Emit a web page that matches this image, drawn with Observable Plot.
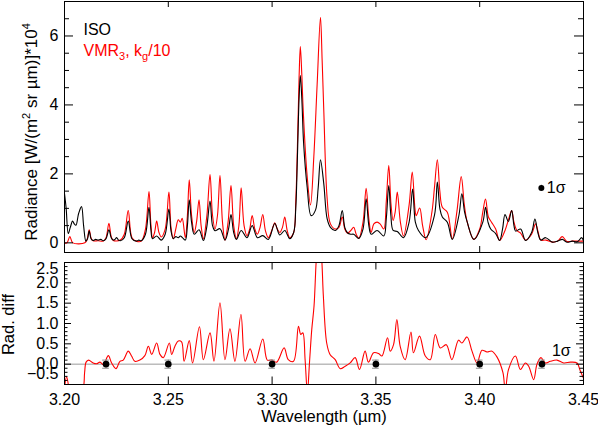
<!DOCTYPE html>
<html><head><meta charset="utf-8">
<script src="https://cdn.jsdelivr.net/npm/d3@7"></script>
<script src="https://cdn.jsdelivr.net/npm/@observablehq/plot@0.6"></script>
<style>
body{margin:0;background:#fff;}
#chart{position:relative;width:598px;height:427px;}
#chart svg{display:block;}
</style></head><body><div id="chart"></div>
<script>
// ---------- data (wavelength µm, value) ----------
const isoSpectrum = [
[3.2000,1.43],[3.2008,1.0],[3.2018,0.27],[3.2028,0.45],[3.2039,0.63],[3.2047,0.55],[3.2055,0.51],[3.2068,0.85],[3.2082,1.05],[3.2092,0.5],
[3.2103,0.05],[3.2111,0.12],[3.2119,0.35],[3.2128,0.12],[3.2138,0.07],[3.2150,0.1],[3.2162,0.08],[3.2175,0.1],[3.2187,0.06],[3.2200,0.12],
[3.2214,0.38],[3.2225,0.15],[3.2235,0.08],[3.2243,0.1],[3.2251,0.15],[3.2260,0.08],[3.2269,0.06],[3.2288,0.15],[3.2307,0.63],[3.2325,0.12],
[3.2346,0.05],[3.2358,0.08],[3.2370,0.06],[3.2390,0.25],[3.2407,1.03],[3.2416,0.4],[3.2424,0.12],[3.2444,0.2],[3.2466,0.08],[3.2485,0.25],
[3.2503,0.98],[3.2513,0.35],[3.2524,0.12],[3.2536,0.18],[3.2548,0.15],[3.2558,0.2],[3.2568,0.15],[3.2582,0.08],[3.2592,0.5],[3.2601,1.25],
[3.2612,0.6],[3.2625,0.25],[3.2648,0.38],[3.2669,0.07],[3.2685,0.45],[3.2701,1.21],[3.2713,0.5],[3.2725,0.35],[3.2749,0.41],[3.2773,0.08],
[3.2790,0.4],[3.2802,0.82],[3.2815,0.3],[3.2828,0.1],[3.2851,0.36],[3.2879,0.15],[3.2904,0.5],[3.2929,0.15],[3.2955,0.21],[3.2982,0.1],
[3.3013,0.56],[3.3037,0.23],[3.3061,0.36],[3.3085,0.12],[3.3104,0.3],[3.3114,1.0],[3.3122,2.5],[3.3130,4.2],[3.3136,4.85],[3.3143,4.2],
[3.3152,2.87],[3.3169,1.61],[3.3188,0.79],[3.3209,0.95],[3.3222,1.6],[3.3233,2.41],[3.3249,1.71],[3.3265,0.7],[3.3281,0.45],[3.3305,0.36],
[3.3322,0.5],[3.3338,0.94],[3.3350,0.45],[3.3362,0.3],[3.3378,0.25],[3.3393,0.25],[3.3418,0.13],[3.3438,0.4],[3.3453,1.28],[3.3466,0.5],
[3.3477,0.25],[3.3506,0.36],[3.3538,0.2],[3.3550,0.7],[3.3562,1.66],[3.3572,0.8],[3.3583,0.36],[3.3603,0.33],[3.3633,0.15],[3.3660,0.6],
[3.3677,1.56],[3.3690,0.6],[3.3705,0.36],[3.3739,0.15],[3.3782,0.8],[3.3796,1.76],[3.3808,1.0],[3.3820,0.75],[3.3844,0.6],[3.3868,0.1],
[3.3900,0.8],[3.3914,1.42],[3.3927,0.9],[3.3940,0.6],[3.3972,0.1],[3.4015,0.6],[3.4028,1.03],[3.4040,0.6],[3.4053,0.4],[3.4077,0.27],
[3.4096,0.07],[3.4110,0.4],[3.4122,0.82],[3.4138,0.62],[3.4154,0.94],[3.4165,0.5],[3.4173,0.34],[3.4197,0.4],[3.4221,0.07],[3.4250,0.3],
[3.4266,0.69],[3.4280,0.3],[3.4294,0.08],[3.4318,0.15],[3.4350,0.02],[3.4375,0.05],[3.4398,0.1],[3.4420,0.02],[3.4446,0.05],[3.4470,0.03],
[3.4491,0.15],[3.4500,0.05]
];
const vmrSpectrum = [
[3.2000,0],[3.2012,0],[3.2026,0.18],[3.2040,0],[3.2098,0],[3.2109,0.1],[3.2119,0.38],[3.2129,0.12],[3.2138,0.06],[3.2162,0.06],
[3.2187,0.05],[3.2200,0.15],[3.2214,0.57],[3.2225,0.18],[3.2235,0.07],[3.2269,0.08],[3.2288,0.25],[3.2307,0.94],[3.2325,0.15],[3.2346,0.05],
[3.2370,0.05],[3.2390,0.4],[3.2407,1.49],[3.2416,0.55],[3.2424,0.15],[3.2434,0.3],[3.2444,0.63],[3.2455,0.3],[3.2466,0.17],[3.2485,0.4],
[3.2503,1.47],[3.2513,0.45],[3.2524,0.12],[3.2536,0.4],[3.2548,0.67],[3.2558,0.6],[3.2567,0.71],[3.2582,0.15],[3.2592,0.8],[3.2601,1.83],
[3.2612,0.8],[3.2625,0.3],[3.2636,0.6],[3.2648,1.25],[3.2658,0.5],[3.2669,0.12],[3.2686,0.8],[3.2701,1.98],[3.2713,0.8],[3.2725,0.4],
[3.2737,0.8],[3.2749,1.95],[3.2761,0.6],[3.2773,0.08],[3.2788,0.6],[3.2802,1.66],[3.2815,0.5],[3.2828,0.12],[3.2840,0.5],[3.2851,1.6],
[3.2865,0.5],[3.2879,0.21],[3.2892,0.4],[3.2904,0.79],[3.2917,0.4],[3.2929,0.25],[3.2942,0.45],[3.2955,0.82],[3.2968,0.35],[3.2982,0.15],
[3.2998,0.35],[3.3013,0.58],[3.3025,0.4],[3.3037,0.3],[3.3050,0.45],[3.3061,0.75],[3.3073,0.35],[3.3085,0.15],[3.3104,0.3],[3.3114,1.2],
[3.3122,2.8],[3.3130,4.8],[3.3136,5.69],[3.3143,4.9],[3.3150,3.83],[3.3168,2.0],[3.3185,1.1],[3.3201,2.5],[3.3217,4.6],[3.3233,6.54],
[3.3241,5.3],[3.3249,3.83],[3.3265,1.3],[3.3281,0.55],[3.3305,0.4],[3.3322,0.45],[3.3338,0.75],[3.3350,0.4],[3.3362,0.28],[3.3378,0.35],
[3.3393,0.45],[3.3405,0.25],[3.3418,0.13],[3.3438,0.6],[3.3453,1.58],[3.3466,0.7],[3.3477,0.3],[3.3490,0.55],[3.3506,0.6],[3.3520,0.55],
[3.3538,0.4],[3.3550,1.2],[3.3562,2.24],[3.3573,1.1],[3.3583,0.65],[3.3593,0.9],[3.3603,1.47],[3.3618,0.6],[3.3633,0.2],[3.3660,1.1],
[3.3675,2.05],[3.3688,1.0],[3.3694,0.79],[3.3711,1.01],[3.3725,0.5],[3.3742,0.09],[3.3770,0.9],[3.3782,1.6],[3.3796,2.41],[3.3808,1.5],
[3.3820,1.03],[3.3844,0.89],[3.3868,0.12],[3.3890,0.9],[3.3911,1.92],[3.3926,1.1],[3.3940,0.6],[3.3972,0.1],[3.4000,0.4],[3.4015,0.9],
[3.4028,1.27],[3.4042,0.75],[3.4057,0.6],[3.4077,0.4],[3.4096,0.07],[3.4122,0.36],[3.4140,0.7],[3.4154,0.94],[3.4165,0.6],[3.4180,0.35],
[3.4197,0.28],[3.4221,0.08],[3.4250,0.25],[3.4269,0.55],[3.4282,0.3],[3.4294,0.08],[3.4318,0.08],[3.4350,0.02],[3.4375,0.05],[3.4398,0.18],
[3.4420,0.04],[3.4446,0.05],[3.4491,0.05],[3.4500,0.05]
];
const radDiff = [
[3.2000,-0.6],[3.2010,-0.31],[3.2020,-0.55],[3.2030,-0.9],[3.2060,-0.9],[3.2090,-0.6],[3.2097,-0.2],[3.2104,0.05],[3.2116,0.1],[3.2138,0.03],
[3.2154,0.01],[3.2171,0.05],[3.2187,-0.01],[3.2211,0.21],[3.2227,0.03],[3.2248,-0.11],[3.2267,0.07],[3.2283,0.1],[3.2307,0.32],[3.2323,0.2],
[3.2339,0.07],[3.2363,0.1],[3.2387,0.21],[3.2404,0.44],[3.2420,0.24],[3.2444,0.52],[3.2460,0.24],[3.2476,0.16],[3.2505,0.52],[3.2516,0.24],
[3.2532,0.44],[3.2548,0.57],[3.2564,0.55],[3.2576,0.07],[3.2601,0.58],[3.2617,0.03],[3.2650,0.92],[3.2669,0.11],[3.2701,0.77],[3.2720,0.07],
[3.2749,1.51],[3.2773,0.11],[3.2797,0.87],[3.2821,0.07],[3.2850,1.22],[3.2870,0.07],[3.2894,0.38],[3.2918,0.03],[3.2955,0.62],[3.2977,0.1],
[3.2998,0.1],[3.3022,0.05],[3.3058,0.4],[3.3078,0.11],[3.3103,0.07],[3.3127,0.93],[3.3138,0.73],[3.3148,0.77],[3.3159,0.11],[3.3170,-0.7],
[3.3180,0.03],[3.3191,0.85],[3.3202,1.43],[3.3212,2.5],[3.3226,3.6],[3.3240,2.5],[3.3247,1.67],[3.3263,0.52],[3.3279,0.24],[3.3304,0.11],
[3.3328,-0.11],[3.3352,-0.05],[3.3376,0.03],[3.3400,0.16],[3.3421,-0.13],[3.3448,0.32],[3.3464,0.05],[3.3489,0.28],[3.3513,0.26],[3.3529,0.2],
[3.3556,0.65],[3.3569,0.32],[3.3585,0.48],[3.3601,1.1],[3.3617,0.44],[3.3641,0.11],[3.3669,0.79],[3.3681,0.28],[3.3710,0.69],[3.3738,0.2],
[3.3762,0.11],[3.3786,0.73],[3.3810,0.4],[3.3839,0.48],[3.3866,0.11],[3.3898,0.59],[3.3914,0.52],[3.3939,0.67],[3.3963,0.32],[3.3987,0.03],
[3.4011,0.34],[3.4035,0.3],[3.4059,0.32],[3.4083,0.18],[3.4112,-0.21],[3.4123,-0.65],[3.4139,-0.13],[3.4172,0.2],[3.4196,-0.13],[3.4220,0.03],
[3.4236,-0.05],[3.4260,-0.38],[3.4276,0.0],[3.4295,0.16],[3.4316,0.03],[3.4340,0.07],[3.4372,0.1],[3.4405,0.03],[3.4437,0.05],[3.4469,0.03],
[3.4482,-0.13],[3.4500,-0.35]
];
const sigmaWavelengths = [3.22, 3.25, 3.30, 3.35, 3.40, 3.43];
const sigmaDiff = 0.1;
const sigmaTop = {wl: 3.4297, value: 1.59, err: 0.08};
const sigmaLabel = "1σ";
const sigmaLabelDiff = {wl: 3.4393, value: 0.315};

const xMajorTicks = [3.20, 3.25, 3.30, 3.35, 3.40, 3.45];
const xMinorTicks = d3.range(21, 45).filter(i => i % 5 !== 0).map(i => i / 100);
const topYMajorTicks = [0, 2, 4, 6];
const topYMinorTicks = d3.range(1, 14).filter(i => i % 4 !== 0).map(i => i / 2);
const diffYTicksMid = [0.0, 0.5, 1.0, 1.5, 2.0];
const diffYTickTop = [2.5];
const diffYTickBottom = [-0.5];
const diffYMinorTicks = d3.range(-4, 25).filter(i => i % 5 !== 0).map(i => i / 10);

const seriesLabels = {iso: "ISO", model: "VMR3, kg/10"};
const titles = {
  topY: "Radiance [W/(m2 sr µm)]*104",
  diffY: "Rad. diff",
  x: "Wavelength (µm)"
};

// ---------- layout ----------
const FONT = "'Liberation Sans', Arial, Helvetica, sans-serif";
const W = 598, ML = 64, MR = 15;
const FW = W - ML - MR;
const TOP_H = 256, TOP_MT = 1, TOP_MB = 4;
const TOP_FH = TOP_H - TOP_MT - TOP_MB;
const BOT_H = 171, BOT_MT = 6, BOT_MB = 43;
const BOT_FH = BOT_H - BOT_MT - BOT_MB;
const RED = "#ff0000";

function frameTicks(fh, xMaj, xMin, yMaj, yMin, xMajL, xMinL, yMajL, yMinL) {
  return [
    Plot.ruleX(xMaj, {x: d => d, insetTop: fh - xMajL}),
    Plot.ruleX(xMaj, {x: d => d, insetBottom: fh - xMajL}),
    Plot.ruleX(xMin, {x: d => d, insetTop: fh - xMinL}),
    Plot.ruleX(xMin, {x: d => d, insetBottom: fh - xMinL}),
    Plot.ruleY(yMaj, {y: d => d, insetRight: FW - yMajL}),
    Plot.ruleY(yMaj, {y: d => d, insetLeft: FW - yMajL}),
    Plot.ruleY(yMin, {y: d => d, insetRight: FW - yMinL}),
    Plot.ruleY(yMin, {y: d => d, insetLeft: FW - yMinL})
  ];
}

const topPlot = Plot.plot({
  width: W, height: TOP_H,
  marginTop: TOP_MT, marginBottom: TOP_MB, marginLeft: ML, marginRight: MR,
  style: {fontFamily: FONT, fontSize: "16px", background: "white", color: "black"},
  x: {domain: [3.20, 3.45], axis: null},
  y: {domain: [-0.28, 7.0]},
  marks: [
    Plot.line(vmrSpectrum, {x: d => d[0], y: d => d[1], stroke: RED, strokeWidth: 1.1, curve: "catmull-rom", clip: true}),
    Plot.line(isoSpectrum, {x: d => d[0], y: d => d[1], stroke: "black", strokeWidth: 1.1, curve: "catmull-rom", clip: true}),
    Plot.ruleX([sigmaTop], {x: d => d.wl, y1: d => d.value - d.err, y2: d => d.value + d.err, stroke: "#555"}),
    Plot.dot([sigmaTop], {x: d => d.wl, y: d => d.value, r: 3, fill: "black"}),
    Plot.text([sigmaTop], {x: d => d.wl, y: d => d.value, text: () => sigmaLabel, textAnchor: "start", dx: 5.5, fontSize: 16}),
    Plot.text([seriesLabels.iso], {frameAnchor: "top-left", dx: 19, dy: 28.3, textAnchor: "start", lineAnchor: "middle", fontSize: 16, fill: "black"}),
    Plot.text([seriesLabels.model], {frameAnchor: "top-left", dx: 19, dy: 48.9, textAnchor: "start", lineAnchor: "middle", fontSize: 16, fill: RED}),
    Plot.text([titles.topY], {frameAnchor: "left", rotate: -90, dx: -33, dy: 5, textAnchor: "middle", lineAnchor: "middle", fontSize: 17}),
    Plot.axisY(topYMajorTicks, {tickSize: 0, tickPadding: 6, tickFormat: d => String(d), label: null, fontSize: 16}),
    ...frameTicks(TOP_FH, xMajorTicks, xMinorTicks, topYMajorTicks, topYMinorTicks, 6, 3.5, 9, 5),
    Plot.frame({stroke: "black"})
  ]
});

const fmt1 = d => d.toFixed(1).replace("-", "\u2212");
const botPlot = Plot.plot({
  width: W, height: BOT_H,
  marginTop: BOT_MT, marginBottom: BOT_MB, marginLeft: ML, marginRight: MR,
  style: {fontFamily: FONT, fontSize: "16px", background: "white", color: "black"},
  x: {domain: [3.20, 3.45]},
  y: {domain: [-0.5, 2.5]},
  marks: [
    Plot.ruleY([0], {stroke: "#9a9a9a"}),
    Plot.line(radDiff, {x: d => d[0], y: d => d[1], stroke: RED, strokeWidth: 1.1, curve: "catmull-rom", clip: true}),
    Plot.ruleX(sigmaWavelengths, {x: d => d, y1: -sigmaDiff, y2: sigmaDiff, stroke: "#8a8a8a"}),
    Plot.ruleY(sigmaWavelengths, {y: sigmaDiff, x1: d => d - 0.0016, x2: d => d + 0.0016, stroke: "#8a8a8a"}),
    Plot.ruleY(sigmaWavelengths, {y: -sigmaDiff, x1: d => d - 0.0016, x2: d => d + 0.0016, stroke: "#8a8a8a"}),
    Plot.dot(sigmaWavelengths, {x: d => d, y: 0, r: 3.3, fill: "black"}),
    Plot.text([sigmaLabelDiff], {x: d => d.wl, y: d => d.value, text: () => sigmaLabel, textAnchor: "middle", fontSize: 16}),
    Plot.axisY(diffYTicksMid, {tickSize: 0, tickPadding: 6, tickFormat: fmt1, label: null, fontSize: 16}),
    Plot.axisY(diffYTickTop, {tickSize: 0, tickPadding: 6, tickFormat: fmt1, label: null, fontSize: 16, dy: 6.5}),
    Plot.axisY(diffYTickBottom, {tickSize: 0, tickPadding: 6, tickFormat: fmt1, label: null, fontSize: 16, dy: -10.5}),
    Plot.axisX(xMajorTicks, {tickSize: 0, tickPadding: 9.5, tickFormat: d => d.toFixed(2), label: null, fontSize: 16}),
    Plot.text([titles.diffY], {frameAnchor: "left", rotate: -90, dx: -56, dy: 1, textAnchor: "middle", lineAnchor: "middle", fontSize: 16.5}),
    Plot.text([titles.x], {frameAnchor: "bottom", dy: 32, textAnchor: "middle", lineAnchor: "middle", fontSize: 16.5}),
    ...frameTicks(BOT_FH, xMajorTicks, xMinorTicks, [-0.5, 0, 0.5, 1, 1.5, 2, 2.5], diffYMinorTicks, 7.5, 4.5, 7, 3.5),
    Plot.frame({stroke: "black"})
  ]
});

const chart = document.getElementById("chart");
chart.append(topPlot, botPlot);

// rich text (sub/superscripts) inside the SVG text elements
function richText(svg, match, parts) {
  d3.select(svg).selectAll("text").filter(function () { return this.textContent === match; }).each(function () {
    const t = d3.select(this);
    t.text(null);
    let shift = 0;
    for (const [s, kind] of parts) {
      const target = kind === "sup" ? -6.5 : kind === "sub" ? 4 : 0;
      const sp = t.append("tspan").text(s).attr("dy", target - shift);
      if (kind) sp.attr("font-size", 11);
      shift = target;
    }
  });
}
richText(topPlot, seriesLabels.model, [["VMR"], ["3", "sub"], [", k"], ["g", "sub"], ["/10"]]);
richText(topPlot, titles.topY, [["Radiance [W/(m"], ["2", "sup"], [" sr µm)]*10"], ["4", "sup"]]);
</script>
</body></html>
